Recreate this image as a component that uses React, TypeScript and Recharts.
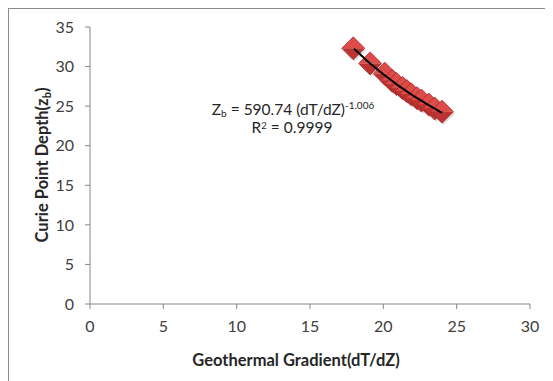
import { ScatterChart, Scatter, XAxis, YAxis, Customized } from 'recharts';

// geothermal gradient (dT/dZ) vs curie point depth (Zb)
const gradient = [17.95, 19.1, 20.1, 20.6, 20.9, 21.3, 21.6, 21.9, 22.3, 22.6, 23.1, 23.5, 24.0];
const depth = [32.3, 30.4, 29.1, 28.2, 27.8, 27.3, 26.9, 26.5, 26.0, 25.7, 25.2, 24.7, 24.3];

// power trendline
const trendX = [18, 19, 20, 21, 22, 23, 24];
const trendY = [32.25, 30.55, 29.02, 27.63, 26.37, 25.22, 24.16];

const xTicks = [0, 5, 10, 15, 20, 25, 30];
const yTicks = [0, 5, 10, 15, 20, 25, 30, 35];

const points = gradient.map((g, i) => ({ x: g, y: depth[i] }));
const trend = trendX.map((t, i) => ({ x: t, y: trendY[i] }));

const FONT = 'Lato, "Open Sans", sans-serif';
const AXIS = '#868686';

const Diamond = (props: any) => {
  const { cx, cy } = props;
  const r = 11.5;
  return (
    <g>
      <polygon
        points={`${cx + 1.5},${cy - r + 2} ${cx + r + 1.5},${cy + 2} ${cx + 1.5},${cy + r + 2} ${cx - r + 1.5},${cy + 2}`}
        fill="#000"
        opacity={0.12}
      />
      <polygon points={`${cx},${cy - r} ${cx + r},${cy} ${cx - r},${cy}`} fill="#DE4C49" />
      <polygon points={`${cx - r},${cy} ${cx + r},${cy} ${cx},${cy + r}`} fill="#BC3331" />
      <polygon
        points={`${cx},${cy - r} ${cx + r},${cy} ${cx},${cy + r} ${cx - r},${cy}`}
        fill="none"
        stroke="#A8292A"
        strokeWidth={0.8}
      />
    </g>
  );
};

const Texts = () => (
  <g fontFamily={FONT}>
    <text
      x={33}
      y={156}
      transform="rotate(-90 33 156)"
      textAnchor="middle"
      dominantBaseline="central"
      fontSize={16.5}
      fontWeight="bold"
      fill="#262626"
    >
      Curie Point Depth(z<tspan fontSize={11} dy={4}>b</tspan><tspan dy={-4}>)</tspan>
    </text>
    <text
      x={287}
      y={357}
      textAnchor="middle"
      fontSize={16.5}
      fontWeight="bold"
      fill="#262626"
    >
      Geothermal Gradient(dT/dZ)
    </text>
    <text x={284} y={106} textAnchor="middle" fontSize={15.5} fill="#262626">
      Z<tspan fontSize={10} dy={2}>b</tspan>
      <tspan dy={-2}> = 590.74 (dT/dZ)</tspan>
      <tspan fontSize={10} dy={-6}>-1.006</tspan>
    </text>
    <text x={283} y={124} textAnchor="middle" fontSize={15.5} fill="#262626">
      R<tspan fontSize={9.5} dy={-4}>2</tspan>
      <tspan dy={4}> = 0.9999</tspan>
    </text>
  </g>
);

export default function App() {
  return (
    <div
      style={{
        width: 545,
        height: 373,
        borderLeft: '1px solid #8c8c8c',
        borderTop: '1px solid #8c8c8c',
        background: '#fff',
      }}
    >
      <ScatterChart
        width={544}
        height={372}
        margin={{ top: 18, right: 23, bottom: 0, left: 0 }}
      >
        <XAxis
          type="number"
          dataKey="x"
          domain={[0, 30]}
          ticks={xTicks}
          height={77}
          stroke={AXIS}
          tickSize={5}
          tickMargin={12}
          tick={{ fill: '#404040', fontSize: 16, fontFamily: FONT }}
        />
        <YAxis
          type="number"
          dataKey="y"
          domain={[0, 35]}
          ticks={yTicks}
          width={81}
          stroke={AXIS}
          tickSize={5}
          tickMargin={11}
          tick={{ fill: '#404040', fontSize: 16, fontFamily: FONT }}
        />
        <Scatter data={points} shape={<Diamond />} isAnimationActive={false} />
        <Scatter
          data={trend}
          line={{ stroke: '#000', strokeWidth: 2 }}
          lineType="joint"
          shape={() => <g />}
          isAnimationActive={false}
        />
        <Customized component={<Texts />} />
      </ScatterChart>
    </div>
  );
}
